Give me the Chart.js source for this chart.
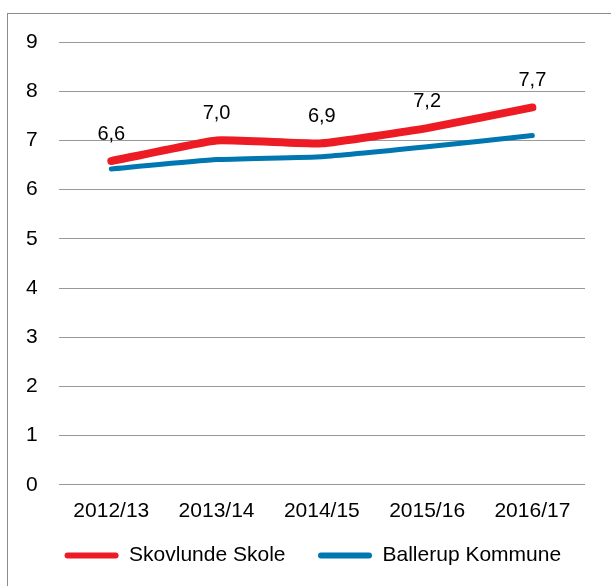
<!DOCTYPE html>
<html>
<head>
<meta charset="utf-8">
<script src="https://cdn.jsdelivr.net/npm/chart.js@4"></script>
<style>
  html, body { margin: 0; padding: 0; background: #fff; overflow: hidden; }
  #frame { position: absolute; left: 7px; top: 13px; width: 640px; height: 620px; border: 1px solid #8c8c8c; }
  #wrap { position: absolute; left: 0; top: 0; width: 611px; height: 586px; }
</style>
</head>
<body>
<div id="frame"></div>
<div id="wrap"><canvas id="chart" width="611" height="586"></canvas></div>
<script>
const years = ['2012/13', '2013/14', '2014/15', '2015/16', '2016/17'];
const skovlunde = [6.58, 7.0, 6.94, 7.25, 7.67];
const ballerup = [6.42, 6.61, 6.67, 6.87, 7.1];
const skovlundeLabels = ['6,6', '7,0', '6,9', '7,2', '7,7'];
const yTicks = [0, 1, 2, 3, 4, 5, 6, 7, 8, 9];

const font = 'Liberation Sans, Arial, sans-serif';
const fontSize = 21;

// labels above the red line
const valueLabels = {
    id: 'valueLabels',
    afterDatasetsDraw(chart) {
        const ctx = chart.ctx;
        const meta = chart.getDatasetMeta(0);
        ctx.save();
        ctx.font = '20px ' + font;
        ctx.fillStyle = '#000';
        ctx.textAlign = 'center';
        ctx.textBaseline = 'bottom';
        meta.data.forEach(function (pt, i) {
            ctx.fillText(skovlundeLabels[i], pt.x, pt.y - 17);
        });
        ctx.restore();
    }
};

// move the legend row a bit to the right, roughly under the plot area
const legendShift = {
    id: 'legendShift',
    afterLayout(chart) {
        const lg = chart.legend;
        const dx = (chart.chartArea.left + chart.chartArea.right) / 2 - (lg.left + lg.right) / 2 - 9;
        lg.left += dx;
        lg.right += dx;
    }
};

new Chart(document.getElementById('chart').getContext('2d'), {
    type: 'line',
    data: {
        labels: years,
        datasets: [{
            label: 'Skovlunde Skole',
            data: skovlunde,
            borderColor: '#ED1C24',
            backgroundColor: '#ED1C24',
            borderWidth: 8,
            borderCapStyle: 'round',
            borderJoinStyle: 'round',
            pointRadius: 0,
            tension: 0.12
        }, {
            label: 'Ballerup Kommune',
            data: ballerup,
            borderColor: '#0077B0',
            backgroundColor: '#0077B0',
            borderWidth: 5,
            borderCapStyle: 'round',
            borderJoinStyle: 'round',
            pointRadius: 0,
            tension: 0.12
        }]
    },
    options: {
        responsive: false,
        animation: false,
        layout: { padding: { left: 5, right: 26, top: 42, bottom: 10 } },
        scales: {
            x: {
                offset: true,
                grid: { display: false },
                border: { display: false },
                ticks: { color: '#000', font: { family: font, size: fontSize }, padding: 6 }
            },
            y: {
                min: 0,
                max: 9,
                afterBuildTicks(axis) { axis.ticks = yTicks.map(v => ({ value: v })); },
                grid: { color: '#999', lineWidth: 1, drawTicks: false },
                border: { display: false },
                ticks: { color: '#000', font: { family: font, size: fontSize }, padding: 21 }
            }
        },
        plugins: {
            legend: {
                position: 'bottom',
                labels: {
                    color: '#000',
                    font: { family: font, size: fontSize },
                    boxWidth: 54,
                    boxHeight: 6,
                    padding: 15,
                    generateLabels(chart) {
                        const n = chart.data.datasets.length;
                        return chart.data.datasets.map((ds, i) => ({
                            // a little extra room between the two entries
                            text: i < n - 1 ? ds.label + '\u00A0\u00A0\u00A0' : ds.label,
                            fillStyle: ds.borderColor,
                            strokeStyle: ds.borderColor,
                            lineWidth: 0,
                            borderRadius: 3,
                            datasetIndex: i,
                            fontColor: '#000'
                        }));
                    }
                }
            },
            tooltip: { enabled: false }
        }
    },
    plugins: [valueLabels, legendShift]
});
</script>
</body>
</html>
